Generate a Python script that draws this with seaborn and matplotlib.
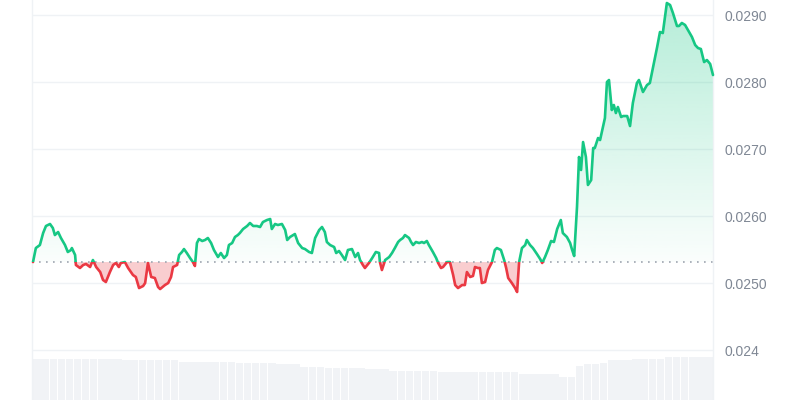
import numpy as np
import matplotlib
matplotlib.use("Agg")
import matplotlib.pyplot as plt
from matplotlib.patches import Rectangle
from matplotlib.path import Path
import seaborn as sns

# price over 7 days (hours since start)
hours = [
    0, 0.7, 1.7, 2.5, 3.2, 4.2, 4.9, 5.4, 6.2, 6.9, 7.9, 8.6, 9.4, 9.6, 10.4, 10.6,
    11.6, 12.4, 13.1, 14.1, 14.8, 15.6, 16.6, 17.3, 18.0, 19.0, 19.8, 20.5, 21.2, 21.7,
    22.7, 23.5, 24.7, 25.4, 26.2, 27.2, 27.7, 28.4, 29.2, 30.1, 30.9, 31.4, 32.6, 33.4,
    34.1, 34.6, 35.6, 36.1, 36.8, 37.3, 38.0, 38.8, 39.5, 40.0, 40.5, 41.0, 41.8, 42.5,
    43.2, 44.0, 44.7, 45.7, 46.4, 47.2, 47.9, 48.4, 49.2, 49.9, 50.6, 51.1, 51.9, 52.9,
    53.6, 54.4, 55.3, 56.1, 56.8, 57.8, 58.6, 59.0, 59.8, 60.5, 61.5, 62.3, 62.8, 63.5,
    64.7, 65.5, 66.5, 67.2, 68.2, 68.9, 69.7, 70.7, 71.4, 72.1, 72.6, 73.4, 74.4, 74.9,
    75.6, 76.3, 77.1, 77.8, 78.8, 79.6, 80.3, 80.8, 81.5, 82.0, 83.0, 83.8, 84.7, 85.5,
    85.7, 86.2, 87.0, 88.0, 88.7, 89.4, 90.2, 90.7, 91.4, 91.9, 92.9, 93.4, 93.9, 94.6,
    95.4, 96.1, 96.6, 97.3, 97.8, 98.8, 99.6, 100.1, 100.8, 101.3, 102.3, 103.0, 103.8,
    104.3, 105.0, 106.0, 106.7, 107.2, 108.0, 108.7, 109.2, 109.9, 110.4, 110.9, 111.7,
    112.4, 113.4, 114.1, 114.6, 115.6, 116.4, 116.9, 117.4, 118.3, 119.1, 119.6, 120.1,
    120.8, 121.6, 122.0, 122.8, 123.5, 124.5, 125.3, 125.8, 126.5, 127.2, 128.0, 128.7,
    129.5, 130.4, 130.9, 131.9, 132.7, 133.2, 133.7, 134.4, 134.9, 135.4, 135.9, 136.6,
    137.1, 137.9, 138.4, 138.8, 139.6, 140.1, 140.8, 141.3, 141.8, 142.3, 143.0, 143.5,
    144.0, 144.5, 145.3, 145.8, 146.8, 147.5, 148.2, 149.2, 149.7, 150.7, 151.7, 152.4,
    153.2, 154.2, 154.9, 155.6, 156.6, 157.4, 158.1, 159.1, 159.6, 160.3, 161.1, 161.8,
    162.8, 163.6, 164.3, 165.0, 165.8, 166.5, 167.3, 168.0,
]
price = [
    0.025313, 0.025522, 0.025567, 0.025746, 0.025851, 0.025881, 0.025821, 0.025716,
    0.025761, 0.025672, 0.025567, 0.025463, 0.025493, 0.025522, 0.025418, 0.025269,
    0.025224, 0.025269, 0.025284, 0.025239, 0.025343, 0.025239, 0.025164, 0.025045,
    0.025015, 0.025164, 0.025269, 0.025299, 0.025239, 0.025299, 0.025313, 0.025224,
    0.025119, 0.025090, 0.024925, 0.024955, 0.025000, 0.025299, 0.025090, 0.025075,
    0.024940, 0.024910, 0.024970, 0.025000, 0.025090, 0.025239, 0.025269, 0.025418,
    0.025463, 0.025507, 0.025448, 0.025373, 0.025313, 0.025254, 0.025597, 0.025657,
    0.025627, 0.025642, 0.025672, 0.025597, 0.025493, 0.025388, 0.025448, 0.025373,
    0.025418, 0.025567, 0.025597, 0.025687, 0.025716, 0.025746, 0.025806, 0.025851,
    0.025896, 0.025851, 0.025851, 0.025836, 0.025910, 0.025940, 0.025955, 0.025806,
    0.025881, 0.025866, 0.025881, 0.025791, 0.025642, 0.025687, 0.025731, 0.025597,
    0.025522, 0.025507, 0.025463, 0.025448, 0.025672, 0.025791, 0.025836, 0.025761,
    0.025612, 0.025567, 0.025537, 0.025448, 0.025478, 0.025418, 0.025343, 0.025493,
    0.025507, 0.025388, 0.025448, 0.025343, 0.025269, 0.025224, 0.025299, 0.025373,
    0.025463, 0.025448, 0.025313, 0.025194, 0.025343, 0.025388, 0.025448, 0.025522,
    0.025612, 0.025642, 0.025672, 0.025716, 0.025672, 0.025612, 0.025567, 0.025612,
    0.025597, 0.025612, 0.025597, 0.025627, 0.025567, 0.025463, 0.025373, 0.025299,
    0.025224, 0.025239, 0.025313, 0.025313, 0.025119, 0.024970, 0.024925, 0.024970,
    0.024970, 0.025164, 0.025090, 0.025105, 0.025239, 0.025224, 0.025224, 0.025000,
    0.025015, 0.025194, 0.025313, 0.025493, 0.025522, 0.025493, 0.025343, 0.025224,
    0.025075, 0.025000, 0.024925, 0.024866, 0.025313, 0.025522, 0.025567, 0.025642,
    0.025567, 0.025522, 0.025433, 0.025358, 0.025299, 0.025388, 0.025493, 0.025627,
    0.025612, 0.025806, 0.025940, 0.025746, 0.025687, 0.025597, 0.025493, 0.025403,
    0.026134, 0.026881, 0.026687, 0.027104, 0.026881, 0.026463, 0.026537, 0.027015,
    0.027015, 0.027164, 0.027134, 0.027328, 0.027463, 0.028000, 0.028030, 0.027582,
    0.027657, 0.027537, 0.027627, 0.027478, 0.027492, 0.027492, 0.027343, 0.027687,
    0.027985, 0.028030, 0.027851, 0.027955, 0.027985, 0.028224, 0.028522, 0.028746,
    0.028731, 0.029179, 0.029149, 0.029030, 0.028836, 0.028836, 0.028881, 0.028851,
    0.028776, 0.028672, 0.028552, 0.028507, 0.028493, 0.028298, 0.028328, 0.028269,
    0.028104,
]

# rolling 24h volume, one value per 2-hour bucket (millions)
vol_hours = list(range(1, 168, 2))
volume = (
    [4.1] * 11 + [4.0] * 3 + [4.05] * 4 + [3.85] * 7 + [3.75] * 5 + [3.6] * 3
    + [3.35] * 3 + [3.23] * 5 + [3.1] * 3 + [2.93] * 6 + [2.8] * 10 + [2.6] * 5
    + [2.33] * 2 + [3.4] + [3.65] * 2 + [3.75] + [4.0] * 3 + [4.1] * 4 + [4.35] * 6
)

tick_vals = [0.024, 0.025, 0.026, 0.027, 0.028, 0.029]
tick_labels = ["0.024", "0.0250", "0.0260", "0.0270", "0.0280", "0.0290"]

green = "#16c784"
red = "#ea3943"

sns.set_style("white")
plt.rcParams["font.family"] = ["Liberation Sans", "DejaVu Sans"]

fig = plt.figure(figsize=(8, 4), dpi=100)
ax = fig.add_axes([32 / 800, 0, 681 / 800, 1])
ax2 = ax.twinx()

# volume behind the price
ax2.bar(vol_hours, volume, width=1.85, color="#f1f3f6", linewidth=0)
ax2.set_ylim(0, 40)
ax2.set_yticks([])
for s in ax2.spines.values():
    s.set_visible(False)
ax.set_zorder(ax2.get_zorder() + 1)
ax.patch.set_visible(False)

x = np.array(hours)
y = np.array(price)
base = y[0]
ymin, ymax = 0.023254, 0.029224
ax.set_xlim(-0.25, 168)
ax.set_ylim(ymin, ymax)

# red fill under baseline
ax.fill_between(x, y, base, where=y < base, interpolate=True,
                color=red, alpha=0.25, linewidth=0)

# green gradient fill above baseline
gpoly = ax.fill_between(x, y, base, where=y >= base, interpolate=True,
                        color="none", linewidth=0)
clip = Path.make_compound_path(*gpoly.get_paths())
grad = np.zeros((256, 1, 4))
grad[:, 0, :3] = matplotlib.colors.to_rgb(green)
grad[:, 0, 3] = np.linspace(0.02, 0.32, 256)
im = ax.imshow(grad, extent=[0, 168, base, ymax], origin="lower",
               aspect="auto", interpolation="bicubic", zorder=1)
im.set_clip_path(clip, transform=ax.transData)

# price line, green above and red below the opening price
for col, y0, h in [(green, base, ymax - base), (red, ymin, base - ymin)]:
    sns.lineplot(x=x, y=y, ax=ax, color=col, linewidth=1.9,
                 solid_joinstyle="round", solid_capstyle="round", zorder=3)
    ln = ax.lines[-1]
    ln.set_clip_path(Rectangle((-1, y0), 170, h, transform=ax.transData))

ax.axhline(base, color="#9ea5b0", linestyle=(0, (1, 3.2)), linewidth=1.2, zorder=2)

ax.yaxis.tick_right()
ax.set_yticks(tick_vals)
ax.set_yticklabels(tick_labels)
ax.tick_params(axis="y", length=0, pad=8, labelsize=10, labelcolor="#7f8794")
ax.set_xticks([])
ax.set_xlabel("")
ax.set_ylabel("")
ax.grid(axis="y", color="#eff2f5", linewidth=1)
ax.grid(axis="x", visible=False)
for side in ["top", "bottom"]:
    ax.spines[side].set_visible(False)
for side in ["left", "right"]:
    ax.spines[side].set_color("#eff2f5")
    ax.spines[side].set_linewidth(1)

fig.savefig("out.png", dpi=100)
